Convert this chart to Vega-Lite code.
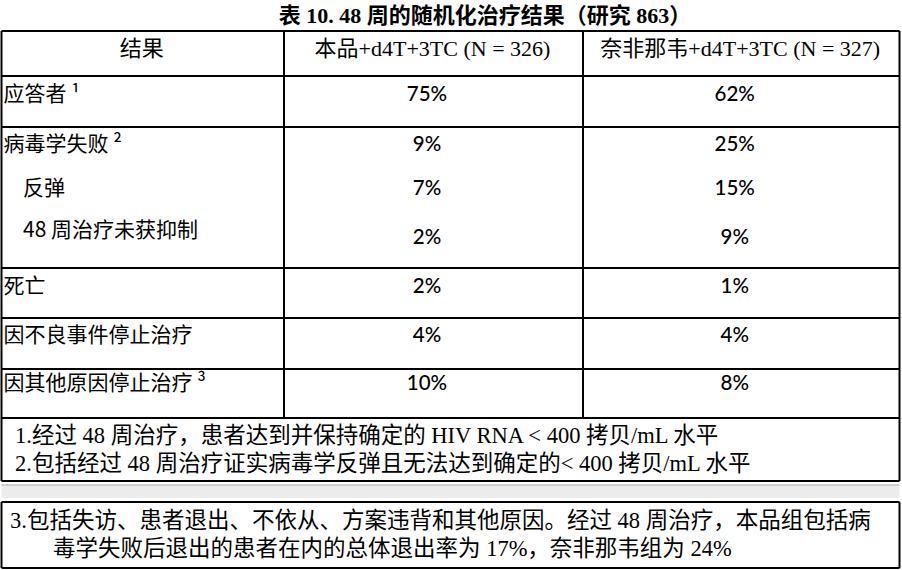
{
  "$schema": "https://vega.github.io/schema/vega-lite/v6.json",
  "width": 902,
  "height": 570,
  "padding": 0,
  "autosize": {"type": "none"},
  "background": "white",
  "config": {"view": {"stroke": null}},
  "datasets": {
    "grid": [
      {"k": "band", "x": 0, "x2": 3, "y": 20, "y2": 21},
      {"k": "bandline", "x": 0, "x2": 3, "y": 20, "y2": 20},
      {"k": "line", "x": 0, "x2": 3, "y": 1, "y2": 1},
      {"k": "line", "x": 0, "x2": 3, "y": 3, "y2": 3},
      {"k": "line", "x": 0, "x2": 3, "y": 5, "y2": 5},
      {"k": "line", "x": 0, "x2": 3, "y": 10, "y2": 10},
      {"k": "line", "x": 0, "x2": 3, "y": 12, "y2": 12},
      {"k": "line", "x": 0, "x2": 3, "y": 14, "y2": 14},
      {"k": "line", "x": 0, "x2": 3, "y": 16, "y2": 16},
      {"k": "line", "x": 0, "x2": 3, "y": 19, "y2": 19},
      {"k": "line", "x": 0, "x2": 3, "y": 22, "y2": 22},
      {"k": "line", "x": 0, "x2": 3, "y": 25, "y2": 25},
      {"k": "line", "x": 0, "x2": 0, "y": 1, "y2": 19},
      {"k": "line", "x": 3, "x2": 3, "y": 1, "y2": 19},
      {"k": "line", "x": 1, "x2": 1, "y": 1, "y2": 16},
      {"k": "line", "x": 2, "x2": 2, "y": 1, "y2": 16},
      {"k": "line", "x": 0, "x2": 0, "y": 22, "y2": 25},
      {"k": "line", "x": 3, "x2": 3, "y": 22, "y2": 25}
    ],
    "cells": [
      {"k": "title", "t": "表 10. 48 周的随机化治疗结果（研究 863）", "col": 1.5, "line": 0},
      {"k": "head", "t": "结果", "col": 0.5, "line": 2},
      {"k": "head", "t": "本品+d4T+3TC (N = 326)", "col": 1.5, "line": 2},
      {"k": "head", "t": "奈非那韦+d4T+3TC (N = 327)", "col": 2.5, "line": 2},
      {"k": "label", "t": "应答者 ¹", "col": 0, "line": 4},
      {"k": "label", "t": "病毒学失败 ²", "col": 0, "line": 6},
      {"k": "sub", "t": "反弹", "col": 0, "line": 7},
      {"k": "sub", "t": "48 周治疗未获抑制", "col": 0, "line": 8},
      {"k": "label", "t": "死亡", "col": 0, "line": 11},
      {"k": "label", "t": "因不良事件停止治疗", "col": 0, "line": 13},
      {"k": "label", "t": "因其他原因停止治疗 ³", "col": 0, "line": 15},
      {"k": "value", "t": "75%", "col": 1.5, "line": 4},
      {"k": "value", "t": "62%", "col": 2.5, "line": 4},
      {"k": "value", "t": "9%", "col": 1.5, "line": 6},
      {"k": "value", "t": "25%", "col": 2.5, "line": 6},
      {"k": "value", "t": "7%", "col": 1.5, "line": 7},
      {"k": "value", "t": "15%", "col": 2.5, "line": 7},
      {"k": "value", "t": "2%", "col": 1.5, "line": 9},
      {"k": "value", "t": "9%", "col": 2.5, "line": 9},
      {"k": "value", "t": "2%", "col": 1.5, "line": 11},
      {"k": "value", "t": "1%", "col": 2.5, "line": 11},
      {"k": "value", "t": "4%", "col": 1.5, "line": 13},
      {"k": "value", "t": "4%", "col": 2.5, "line": 13},
      {"k": "value", "t": "10%", "col": 1.5, "line": 15},
      {"k": "value", "t": "8%", "col": 2.5, "line": 15},
      {"k": "note", "t": "1.经过 48 周治疗，患者达到并保持确定的 HIV RNA < 400 拷贝/mL 水平", "col": 0, "line": 17},
      {"k": "note", "t": "2.包括经过 48 周治疗证实病毒学反弹且无法达到确定的< 400 拷贝/mL 水平", "col": 0, "line": 18},
      {"k": "note3", "t": "3.包括失访、患者退出、不依从、方案违背和其他原因。经过 48 周治疗，本品组包括病", "col": 0, "line": 23},
      {"k": "note3b", "t": "毒学失败后退出的患者在内的总体退出率为 17%，奈非那韦组为 24%", "col": 0, "line": 24}
    ]
  },
  "layer": [
    {
      "data": {"name": "grid"},
      "transform": [{"filter": "datum.k === 'band'"}],
      "mark": {"type": "rect", "fill": "#ececec"},
      "encoding": {
        "x": {"field": "x", "type": "quantitative", "axis": null, "scale": {"type": "linear", "domain": [0, 1, 2, 3], "range": [1.5, 284, 583, 899.5], "zero": false, "nice": false}},
        "x2": {"field": "x2"},
        "y": {"field": "y", "type": "quantitative", "axis": null, "scale": {"type": "linear", "domain": [0, 1, 2, 3, 4, 5, 6, 7, 8, 9, 10, 11, 12, 13, 14, 15, 16, 17, 18, 19, 20, 21, 22, 23, 24, 25], "range": [16, 31, 49, 76, 95, 127, 145, 189, 231, 238, 268, 287, 318, 336, 369, 384, 418, 436, 464, 481, 485, 498, 502, 521, 549, 568], "zero": false, "nice": false}},
        "y2": {"field": "y2"}
      }
    },
    {
      "data": {"name": "grid"},
      "transform": [{"filter": "datum.k === 'bandline'"}],
      "mark": {"type": "rule", "stroke": "#c4c4c4", "strokeWidth": 1.5},
      "encoding": {
        "x": {"field": "x", "type": "quantitative"},
        "x2": {"field": "x2"},
        "y": {"field": "y", "type": "quantitative"},
        "y2": {"field": "y2"}
      }
    },
    {
      "data": {"name": "grid"},
      "transform": [{"filter": "datum.k === 'line'"}],
      "mark": {"type": "rule", "stroke": "#000000", "strokeWidth": 2},
      "encoding": {
        "x": {"field": "x", "type": "quantitative"},
        "x2": {"field": "x2"},
        "y": {"field": "y", "type": "quantitative"},
        "y2": {"field": "y2"}
      }
    },
    {
      "data": {"name": "cells"},
      "transform": [{"filter": "datum.k === 'title'"}],
      "mark": {"type": "text", "align": "center", "baseline": "middle", "font": "Liberation Serif, Noto Sans CJK SC", "fontWeight": "bold", "fontSize": 22, "fill": "#000000", "dx": 51.5},
      "encoding": {"x": {"field": "col", "type": "quantitative"}, "y": {"field": "line", "type": "quantitative"}, "text": {"field": "t"}}
    },
    {
      "data": {"name": "cells"},
      "transform": [{"filter": "datum.k === 'head'"}],
      "mark": {"type": "text", "align": "center", "baseline": "middle", "font": "Liberation Serif, Noto Sans CJK SC", "fontSize": 22, "fill": "#000000", "dx": -1},
      "encoding": {"x": {"field": "col", "type": "quantitative"}, "y": {"field": "line", "type": "quantitative"}, "text": {"field": "t"}}
    },
    {
      "data": {"name": "cells"},
      "transform": [{"filter": "datum.k === 'value'"}],
      "mark": {"type": "text", "align": "center", "baseline": "middle", "font": "Lato, Open Sans", "fontWeight": 500, "fontSize": 20.5, "fill": "#000000", "dx": -6.5},
      "encoding": {"x": {"field": "col", "type": "quantitative"}, "y": {"field": "line", "type": "quantitative"}, "text": {"field": "t"}}
    },
    {
      "data": {"name": "cells"},
      "transform": [{"filter": "datum.k === 'label'"}],
      "mark": {"type": "text", "align": "left", "baseline": "middle", "font": "Noto Sans CJK SC", "fontSize": 21, "fill": "#000000", "dx": 2},
      "encoding": {"x": {"field": "col", "type": "quantitative"}, "y": {"field": "line", "type": "quantitative"}, "text": {"field": "t"}}
    },
    {
      "data": {"name": "cells"},
      "transform": [{"filter": "datum.k === 'sub'"}],
      "mark": {"type": "text", "align": "left", "baseline": "middle", "font": "Noto Sans CJK SC", "fontSize": 21, "fill": "#000000", "dx": 21.5},
      "encoding": {"x": {"field": "col", "type": "quantitative"}, "y": {"field": "line", "type": "quantitative"}, "text": {"field": "t"}}
    },
    {
      "data": {"name": "cells"},
      "transform": [{"filter": "datum.k === 'note'"}],
      "mark": {"type": "text", "align": "left", "baseline": "middle", "font": "Liberation Serif, Noto Sans CJK SC", "fontSize": 22.5, "fill": "#000000", "dx": 13.5},
      "encoding": {"x": {"field": "col", "type": "quantitative"}, "y": {"field": "line", "type": "quantitative"}, "text": {"field": "t"}}
    },
    {
      "data": {"name": "cells"},
      "transform": [{"filter": "datum.k === 'note3'"}],
      "mark": {"type": "text", "align": "left", "baseline": "middle", "font": "Liberation Serif, Noto Sans CJK SC", "fontSize": 22.5, "fill": "#000000", "dx": 8.5},
      "encoding": {"x": {"field": "col", "type": "quantitative"}, "y": {"field": "line", "type": "quantitative"}, "text": {"field": "t"}}
    },
    {
      "data": {"name": "cells"},
      "transform": [{"filter": "datum.k === 'note3b'"}],
      "mark": {"type": "text", "align": "left", "baseline": "middle", "font": "Liberation Serif, Noto Sans CJK SC", "fontSize": 22.5, "fill": "#000000", "dx": 51.5},
      "encoding": {"x": {"field": "col", "type": "quantitative"}, "y": {"field": "line", "type": "quantitative"}, "text": {"field": "t"}}
    }
  ]
}
